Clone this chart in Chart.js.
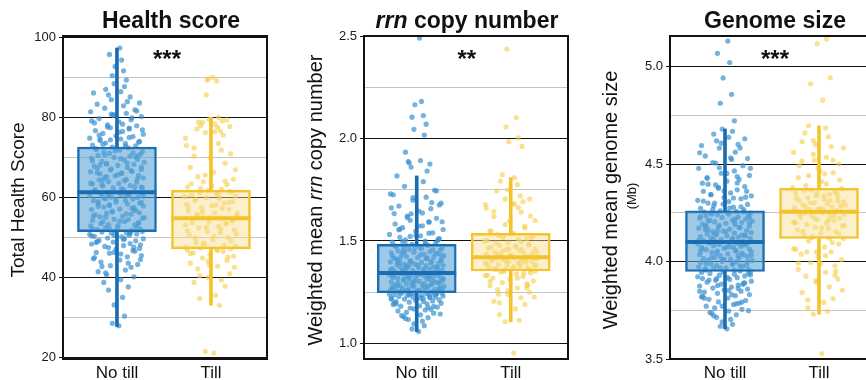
<!DOCTYPE html>
<html>
<head>
<meta charset="utf-8">
<script src="https://cdn.jsdelivr.net/npm/chart.js@4.4.1/dist/chart.umd.min.js"></script>
<style>
html,body{margin:0;padding:0;background:#fff;overflow:hidden}
body{width:866px;height:380px;position:relative}
.pane{position:absolute;top:0}
</style>
</head>
<body>
<div class="pane" style="left:0"><canvas id="c1" width="290" height="380"></canvas></div>
<div class="pane" style="left:290px"><canvas id="c2" width="290" height="380"></canvas></div>
<div class="pane" style="left:580px"><canvas id="c3" width="300" height="380"></canvas></div>
<script>
// groups
var groups = ['No till', 'Till']

// horizontal jitter (hundredths of a category step), same pattern in every panel
var jitterNoTill = [
  2,-5,8,-3,6,-9,12,-14,4,18,-11,-20,9,15,-7,
  22,-17,3,-25,11,26,-8,-22,17,-1,24,-13,7,-27,14,
  -4,20,-19,28,-10,5,-24,13,-29,21,-6,10,-16,27,-2,
  16,-21,25,-12,1,-28,19,-9,23,-15,8,-26,12,-3,29,
  -18,6,-23,15,-11,24,-5,20,-27,3,18,-14,28,-8,11,
  -20,26,-1,-25,9,17,-12,22,-6,-29,13,4,-17,25,-10,
  19,-23,7,-4,27,-15,14,-26,2,21,-9,-19,10,28,-13,
  -2,23,-18,5,-28,16,-7,26,-21,11,-24,1,18,-11,29,
  -16,8,22,-27,-3,14,-20,25,-8,-14,27,3,-22,12,-5,
  20,-26,9,-12,24,-18,4,-29,17,-1,28,-15,6,-23,13,
  -7,21,-10,-24,2,15,-19,26,-4,10,-28,19,-13,7,-21,
  11,-6,14,-9,4,-12,8,-3,10,-5,7,-2,5,-8,3
]
var jitterTill = [
  3,-6,9,-12,5,15,-18,11,-3,20,-14,7,-22,17,-9,
  24,-1,-19,13,-25,6,21,-11,26,-7,-16,2,18,-23,10,
  -4,25,-13,8,-27,16,-2,22,-20,12,-8,27,-15,4,-24,
  19,-10,1,-26,14,23,-17,9,-5,26,-21,6,-12,20,-3,
  11,-25,17,-8,24,-14,3,-22,15,-1,21,-18,8,-27,13,
  -6,10,-15,7,-11,4,-9,12,-2,8,-5,6,-3,2,-4
]
var jitterExtra = [
  -12,25,-3,18,-22,7,-27,14,-8,21,-17,3,27,-25,10,
  -5,16,-20,24,-1,-14,28,-9,12,-24,5,19,-16,-28,8,
  22,-11,1,-21,15,-6,26,-18,11,-26,4,20,-13,17,-2,
  -23,9,-15,23,-7,13,-19,2,27,-10,6,-27,16,-4,21,
  -16,12,-24,4,19,-9,25,-21,8,-3,14,-26,1,23,-12,
  18,-8,-20,10,26,-15,5,-11,22,-1,-18,13,-6,24,-25
]

// Health score
var healthNoTill = [
  28.0,28.6,30.4,33.2,35.1,36.9,37.7,38.8,39.5,40.2,40.7,41.5,41.9,42.6,43.0,
  43.3,43.9,44.4,44.7,45.2,45.5,46.1,46.3,46.8,47.1,47.3,47.8,48.0,48.4,48.5,
  48.9,49.2,49.3,49.7,49.9,50.2,50.3,50.6,50.8,50.9,51.1,51.2,51.4,51.5,51.6,
  51.8,52.0,52.1,52.5,52.6,52.9,53.2,53.3,53.6,53.9,54.0,54.3,54.5,54.6,55.0,
  55.2,55.3,55.7,55.8,56.1,56.2,56.6,56.7,57.0,57.1,57.5,57.6,57.9,58.0,58.4,
  58.5,58.8,58.9,59.2,59.3,59.6,59.7,60.0,60.1,60.4,60.5,60.8,60.9,61.2,61.3,
  61.5,61.9,62.0,62.4,62.5,62.9,63.0,63.4,63.5,63.9,64.0,64.4,64.5,64.9,65.0,
  65.4,65.5,65.9,66.0,66.4,66.5,66.9,67.0,67.3,67.5,67.8,68.0,68.3,68.5,68.8,
  69.0,69.3,69.5,69.8,70.0,70.3,70.5,70.8,71.0,71.3,71.5,71.8,72.0,72.4,72.6,
  72.9,73.1,73.5,73.6,74.0,74.2,74.6,74.8,75.2,75.4,75.8,76.0,76.5,76.7,77.1,
  77.4,77.9,78.1,78.6,78.9,79.4,79.7,80.2,80.5,81.0,81.4,81.9,82.3,82.9,83.3,
  83.9,84.4,85.1,85.6,86.4,87.0,87.7,88.4,89.3,90.4,91.6,92.7,94.3,95.7,97.3
]
var healthNoTillMore = [
  41.2,44.5,46.3,47.6,48.8,49.5,50.4,51.0,52.3,52.7,53.5,54.1,54.8,55.4,55.9,
  56.4,57.3,57.8,58.6,59.4,59.9,60.3,60.7,61.1,61.7,62.2,62.7,63.2,63.6,64.2,
  64.7,65.2,65.7,66.2,66.7,67.1,67.6,68.1,68.6,69.1,69.7,70.1,70.6,71.2,71.6,
  72.2,72.8,73.3,73.8,74.4,75.0,75.6,76.3,76.9,77.6,78.3,79.1,79.9,80.7,81.6,
  42.8,43.6,45.0,45.9,46.6,47.5,48.2,49.0,49.8,50.5,51.3,52.2,53.0,53.8,55.1,
  56.9,58.2,59.0,60.6,62.6,64.4,66.1,68.3,70.4,72.1,74.6,77.3,80.8,83.6,86.1
]
var healthTill = [
  21.2,21.6,33.1,34.8,35.6,37.9,38.8,39.4,40.1,41.0,42.2,42.9,43.6,44.3,44.9,
  45.4,45.8,46.2,46.5,46.9,47.0,47.2,47.4,47.9,48.3,48.8,49.5,50.0,50.6,51.2,
  51.5,51.9,52.4,52.8,53.2,53.5,53.9,54.2,54.5,54.7,54.9,55.3,55.8,56.2,56.6,
  57.1,57.5,57.9,58.3,58.6,59.0,59.3,59.7,60.0,60.3,60.6,60.9,61.2,61.5,61.8,
  62.1,62.6,63.2,63.9,64.6,65.2,66.3,67.5,68.6,69.9,70.9,72.4,73.5,74.8,75.6,
  76.2,76.6,77.1,77.5,77.9,78.3,78.7,79.1,79.5,80.0,85.6,89.1,89.6,90.0,89.3
]
var healthTillMore = [
  40.5,42.6,44.1,45.1,46.0,46.7,47.6,48.1,48.6,49.2,49.9,50.3,50.9,51.7,52.2,
  52.6,53.4,53.7,54.4,55.0,55.6,56.0,56.4,57.3,57.7,58.1,58.8,59.5,60.2,60.8,
  61.4,62.3,62.9,63.4,64.1,65.6,66.9,70.3,71.8,73.0,76.4,77.7,78.8,79.4,43.2
]
var healthLow = [27.8, 33.1]
var healthQ1 = [51.5, 47.2]
var healthMedian = [61.3, 54.8]
var healthQ3 = [72.6, 61.8]
var healthHigh = [97.3, 80.0]
var healthTicks = [20, 30, 40, 50, 60, 70, 80, 90, 100]
var healthLabels = [20, 40, 60, 80, 100]

// rrn copy number
var rrnNoTill = [
  1.057,1.07,1.086,1.095,1.108,1.116,1.125,1.131,1.139,1.147,1.151,1.158,1.163,1.166,1.172,
  1.177,1.181,1.183,1.189,1.193,1.195,1.201,1.203,1.207,1.21,1.212,1.216,1.219,1.221,1.223,
  1.225,1.227,1.229,1.231,1.233,1.234,1.236,1.238,1.239,1.241,1.242,1.243,1.245,1.246,1.247,
  1.25,1.253,1.255,1.256,1.259,1.261,1.262,1.265,1.267,1.268,1.271,1.273,1.274,1.277,1.279,
  1.281,1.283,1.286,1.288,1.29,1.293,1.295,1.298,1.3,1.302,1.305,1.307,1.309,1.312,1.314,
  1.317,1.319,1.321,1.323,1.326,1.327,1.329,1.331,1.333,1.336,1.337,1.339,1.341,1.342,1.344,
  1.347,1.35,1.352,1.355,1.357,1.36,1.363,1.365,1.368,1.371,1.373,1.376,1.379,1.381,1.384,
  1.387,1.39,1.392,1.395,1.398,1.401,1.404,1.407,1.41,1.413,1.416,1.419,1.422,1.425,1.428,
  1.432,1.435,1.438,1.442,1.445,1.448,1.452,1.455,1.459,1.463,1.466,1.47,1.474,1.478,1.483,
  1.488,1.494,1.499,1.505,1.512,1.518,1.525,1.532,1.54,1.548,1.556,1.565,1.574,1.583,1.592,
  1.601,1.611,1.622,1.634,1.646,1.658,1.671,1.685,1.699,1.714,1.73,1.748,1.767,1.79,1.818,
  1.842,1.861,1.876,1.888,1.893,1.934,2.018,2.046,2.071,2.105,2.113,2.166,2.182,1.882,2.492
]
var rrnNoTillMore = [
  1.121,1.143,1.168,1.18,1.192,1.204,1.215,1.226,1.237,1.244,1.252,1.258,1.264,1.27,1.276,
  1.282,1.289,1.294,1.299,1.304,1.311,1.316,1.322,1.328,1.335,1.34,1.346,1.353,1.358,1.364,
  1.369,1.375,1.381,1.386,1.393,1.399,1.405,1.412,1.418,1.426,1.433,1.44,1.449,1.458,1.467,
  1.476,1.486,1.497,1.509,1.522,1.538,1.555,1.573,1.594,1.615,1.637,1.662,1.688,1.712,1.745,
  1.135,1.176,1.198,1.221,1.239,1.256,1.268,1.279,1.291,1.302,1.313,1.325,1.337,1.349,1.361,
  1.374,1.387,1.401,1.415,1.43,1.446,1.463,1.48,1.501,1.527,1.558,1.594,1.633,1.676,1.726
]
var rrnTill = [
  0.952,1.105,1.112,1.14,1.168,1.19,1.205,1.222,1.238,1.25,1.262,1.27,1.281,1.29,1.297,
  1.305,1.312,1.319,1.325,1.332,1.338,1.344,1.349,1.353,1.357,1.361,1.365,1.369,1.372,1.376,
  1.379,1.383,1.386,1.389,1.392,1.395,1.398,1.401,1.404,1.407,1.41,1.413,1.416,1.418,1.42,
  1.423,1.427,1.431,1.435,1.439,1.443,1.447,1.452,1.457,1.462,1.467,1.472,1.478,1.484,1.49,
  1.496,1.503,1.51,1.517,1.524,1.531,1.537,1.55,1.572,1.598,1.622,1.645,1.664,1.678,1.692,
  1.705,1.72,1.745,1.776,1.793,1.81,1.824,1.962,1.985,2.004,2.058,2.102,1.75,1.68,2.438
]
var rrnTillMore = [
  1.198,1.226,1.256,1.284,1.303,1.318,1.331,1.342,1.35,1.358,1.366,1.374,1.381,1.388,1.395,
  1.402,1.409,1.415,1.422,1.429,1.436,1.443,1.451,1.458,1.466,1.474,1.482,1.49,1.499,1.508,
  1.517,1.526,1.535,1.548,1.563,1.58,1.6,1.62,1.641,1.66,1.683,1.705,1.24,1.27,1.46
]
var rrnLow = [1.057, 1.105]
var rrnQ1 = [1.247, 1.353]
var rrnMedian = [1.344, 1.42]
var rrnQ3 = [1.483, 1.537]
var rrnHigh = [1.818, 1.81]
var rrnTicks = [1.0, 1.25, 1.5, 1.75, 2.0, 2.25, 2.5]
var rrnLabels = [1.0, 1.5, 2.0, 2.5]

// Genome size (Mb)
var genomeNoTill = [
  3.655,3.668,3.678,3.69,3.703,3.714,3.727,3.735,3.746,3.755,3.762,3.771,3.779,3.786,3.793,
  3.8,3.806,3.813,3.819,3.825,3.831,3.837,3.843,3.848,3.854,3.859,3.864,3.869,3.874,3.879,
  3.884,3.889,3.894,3.899,3.904,3.908,3.913,3.917,3.922,3.926,3.93,3.935,3.939,3.944,3.948,
  3.952,3.956,3.96,3.964,3.968,3.972,3.976,3.979,3.983,3.987,3.99,3.994,3.998,4.001,4.005,
  4.008,4.012,4.015,4.019,4.022,4.026,4.029,4.033,4.036,4.04,4.043,4.047,4.05,4.054,4.057,
  4.061,4.064,4.068,4.071,4.074,4.078,4.081,4.085,4.088,4.091,4.094,4.096,4.097,4.099,4.1,
  4.104,4.107,4.111,4.114,4.118,4.121,4.125,4.128,4.132,4.135,4.139,4.142,4.146,4.149,4.153,
  4.156,4.16,4.163,4.167,4.171,4.174,4.178,4.181,4.185,4.189,4.192,4.196,4.2,4.203,4.207,
  4.211,4.214,4.218,4.222,4.226,4.229,4.233,4.237,4.241,4.244,4.248,4.251,4.254,4.257,4.26,
  4.266,4.273,4.279,4.286,4.293,4.3,4.307,4.314,4.322,4.329,4.337,4.344,4.352,4.36,4.368,
  4.376,4.385,4.393,4.402,4.412,4.421,4.431,4.442,4.453,4.465,4.478,4.492,4.507,4.524,4.542,
  4.561,4.582,4.601,4.619,4.637,4.654,4.668,4.68,4.722,4.812,4.858,4.942,5.021,5.068,5.131
]
var genomeNoTillMore = [
  3.722,3.748,3.771,3.792,3.812,3.83,3.847,3.862,3.877,3.891,3.905,3.918,3.931,3.944,3.956,
  3.967,3.978,3.989,4.0,4.011,4.021,4.032,4.043,4.054,4.065,4.076,4.087,4.098,4.109,4.12,
  4.131,4.142,4.153,4.164,4.175,4.186,4.197,4.208,4.219,4.231,4.243,4.255,4.268,4.281,4.295,
  4.31,4.326,4.343,4.361,4.381,4.403,4.427,4.452,4.478,4.505,4.532,4.558,4.583,4.607,4.63,
  3.738,3.784,3.821,3.852,3.883,3.912,3.938,3.962,3.985,4.008,4.03,4.052,4.073,4.094,4.115,
  4.136,4.158,4.18,4.202,4.225,4.249,4.274,4.3,4.33,4.362,4.397,4.436,4.481,4.528,4.595
]
var genomeTill = [
  3.528,3.73,3.745,3.762,3.79,3.81,3.84,3.87,3.895,3.91,3.925,3.945,3.96,3.978,3.995,
  4.01,4.024,4.038,4.05,4.062,4.075,4.09,4.105,4.118,4.127,4.136,4.145,4.153,4.161,4.169,
  4.176,4.183,4.19,4.197,4.204,4.21,4.216,4.222,4.228,4.233,4.238,4.243,4.248,4.252,4.256,
  4.261,4.266,4.271,4.276,4.281,4.286,4.291,4.296,4.302,4.308,4.314,4.32,4.326,4.332,4.338,
  4.345,4.352,4.359,4.367,4.376,4.39,4.41,4.43,4.455,4.478,4.5,4.515,4.535,4.56,4.59,
  4.62,4.64,4.66,4.685,4.696,4.828,4.912,4.943,5.118,5.142,4.52,4.45,4.05,3.99,4.6
]
var genomeTillMore = [
  3.802,3.853,3.904,3.951,3.993,4.03,4.066,4.098,4.124,4.142,4.158,4.172,4.186,4.199,4.211,
  4.223,4.235,4.246,4.257,4.268,4.279,4.29,4.301,4.313,4.325,4.337,4.35,4.364,4.38,4.398,
  4.418,4.44,4.465,4.492,4.52,4.55,4.582,4.615,4.12,4.2,4.27,4.31,4.05,3.93,4.35
]
var genomeLow = [3.655, 3.73]
var genomeQ1 = [3.949, 4.118]
var genomeMedian = [4.10, 4.256]
var genomeQ3 = [4.26, 4.376]
var genomeHigh = [4.68, 4.696]
var genomeTicks = [3.5, 3.75, 4.0, 4.25, 4.5, 4.75, 5.0]
var genomeLabels = [3.5, 4.0, 4.5, 5.0]

var FONT = '"Liberation Sans", Arial, Helvetica, sans-serif'
Chart.defaults.font.family = FONT

var lineCol = ['#1b6db3', '#f5c22c']
var boxFill = ['rgba(92,163,213,0.6)', 'rgba(247,222,140,0.45)']
var dotCol = ['rgba(58,145,208,0.7)', 'rgba(247,205,70,0.6)']

function hasVal(arr, v) {
  return arr.some(function (a) { return Math.abs(a - v) < 1e-9 })
}

function drawParts(ctx, parts, size, cx, cy, rotate, base) {
  ctx.save()
  ctx.translate(cx, cy)
  if (rotate) ctx.rotate(-Math.PI / 2)
  ctx.fillStyle = '#111'
  ctx.textBaseline = base
  var total = 0
  parts.forEach(function (p) {
    ctx.font = (p.i ? 'italic ' : '') + (p.b ? 'bold ' : '') + size + 'px ' + FONT
    p.w = ctx.measureText(p.t).width
    total += p.w
  })
  var x = -total / 2
  parts.forEach(function (p) {
    ctx.font = (p.i ? 'italic ' : '') + (p.b ? 'bold ' : '') + size + 'px ' + FONT
    ctx.fillText(p.t, x, 0)
    x += p.w
  })
  ctx.restore()
}

function boxChart(id, c) {
  var pts = function (vals, jit, cx) {
    return vals.map(function (v, i) { return { x: cx + (jit[i] || 0) / 100, y: v } })
  }
  var boxes = [], whiskers = []
  for (var g = 0; g < 2; g++) {
    boxes.push({ x: g + 1, y: [c.q1[g], c.q3[g]] })
    whiskers.push({ x: g + 1, y: [c.low[g], c.q1[g]] })
    whiskers.push({ x: g + 1, y: [c.q3[g], c.high[g]] })
  }

  var extras = {
    id: 'extras' + id,
    afterDatasetsDraw: function (chart) {
      var ctx = chart.ctx, ys = chart.scales.y, a = chart.chartArea
      var meta = chart.getDatasetMeta(3)
      meta.data.forEach(function (bar, i) {
        var y = ys.getPixelForValue(c.median[i])
        ctx.save()
        ctx.strokeStyle = lineCol[i]
        ctx.lineWidth = 4
        ctx.beginPath()
        ctx.moveTo(bar.x - bar.width / 2, y)
        ctx.lineTo(bar.x + bar.width / 2, y)
        ctx.stroke()
        ctx.restore()
      })
      ctx.save()
      ctx.strokeStyle = '#111'
      ctx.lineWidth = 2
      ctx.strokeRect(a.left, a.top, a.right - a.left, a.bottom - a.top)
      ctx.restore()
    },
    afterDraw: function (chart) {
      var ctx = chart.ctx, xs = chart.scales.x, a = chart.chartArea
      drawParts(ctx, c.title, 23, c.titleX, 28, false, 'alphabetic')
      drawParts(ctx, c.ylabel, c.ylabelSize, c.ylabelX, 200, true, 'middle')
      if (c.sub) drawParts(ctx, [{ t: c.sub }], 13, c.subX, 196, true, 'middle')
      ctx.save()
      ctx.fillStyle = '#111'
      ctx.font = 'bold 24px ' + FONT
      ctx.textAlign = 'center'
      ctx.textBaseline = 'alphabetic'
      ctx.fillText(c.stars, xs.getPixelForValue(1.5) + 3, a.top + 31)
      ctx.restore()
    }
  }

  var dot = function (data, col, ord) {
    return { type: 'scatter', data: data, backgroundColor: col, pointRadius: 2.6, pointBorderWidth: 0, order: ord }
  }

  return new Chart(document.getElementById(id), {
    type: 'scatter',
    data: {
      datasets: [
        dot(pts(c.noTill, jitterNoTill, 1), dotCol[0], 5),
        dot(pts(c.till, jitterTill, 2), dotCol[1], 4),
        { type: 'bar', data: whiskers, backgroundColor: [lineCol[0], lineCol[0], lineCol[1], lineCol[1]], barThickness: 3, grouped: false, borderWidth: 0, order: 3 },
        { type: 'bar', data: boxes, backgroundColor: boxFill, borderColor: lineCol, borderWidth: 2, borderSkipped: false, barThickness: 79, grouped: false, order: 2 },
        dot(pts(c.noTillMore, jitterExtra, 1), dotCol[0], 5),
        dot(pts(c.tillMore, jitterExtra, 2), dotCol[1], 4)
      ]
    },
    options: {
      responsive: false,
      animation: false,
      events: [],
      layout: { padding: { top: 36, right: c.padRight, left: 0, bottom: 0 } },
      plugins: { legend: { display: false }, tooltip: { enabled: false } },
      scales: {
        x: {
          type: 'linear', min: c.xmin, max: c.xmin + 2.17, offset: false,
          afterBuildTicks: function (s) { s.ticks = [{ value: 1 }, { value: 2 }] },
          afterFit: function (s) { s.height = 21 },
          grid: { display: false, drawTicks: false, offset: false },
          border: { display: false },
          ticks: { callback: function (v) { return groups[v - 1] }, font: { size: 17 }, color: '#111', padding: 4, maxRotation: 0 }
        },
        y: {
          type: 'linear', min: c.ymin, max: c.ymax,
          afterBuildTicks: function (s) { s.ticks = c.ticks.map(function (v) { return { value: v } }) },
          afterFit: function (s) { s.width = c.yw },
          border: { display: false },
          grid: {
            color: function (ctx) { return hasVal(c.labels, ctx.tick.value) ? '#111' : '#c4c4c4' },
            tickColor: function (ctx) { return hasVal(c.labels, ctx.tick.value) ? '#111' : 'rgba(0,0,0,0)' },
            lineWidth: 1,
            tickLength: 4
          },
          ticks: {
            callback: function (v) { return hasVal(c.labels, v) ? v.toFixed(c.dec) : '' },
            font: { size: 13 }, color: '#1a1a1a', padding: 3
          }
        }
      }
    },
    plugins: [extras]
  })
}

boxChart('c1', {
  noTill: healthNoTill, till: healthTill, noTillMore: healthNoTillMore, tillMore: healthTillMore,
  low: healthLow, q1: healthQ1, median: healthMedian, q3: healthQ3, high: healthHigh,
  ticks: healthTicks, labels: healthLabels, dec: 0,
  ymin: 19.7, ymax: 100.3, xmin: 0.426, yw: 63, padRight: 23,
  title: [{ t: 'Health score', b: true }], titleX: 171,
  ylabel: [{ t: 'Total Health Score' }], ylabelSize: 19, ylabelX: 19,
  stars: '***'
})

boxChart('c2', {
  noTill: rrnNoTill, till: rrnTill, noTillMore: rrnNoTillMore, tillMore: rrnTillMore,
  low: rrnLow, q1: rrnQ1, median: rrnMedian, q3: rrnQ3, high: rrnHigh,
  ticks: rrnTicks, labels: rrnLabels, dec: 1,
  ymin: 0.923, ymax: 2.502, xmin: 0.439, yw: 74, padRight: 12,
  title: [{ t: 'rrn', b: true, i: true }, { t: ' copy number', b: true }], titleX: 177,
  ylabel: [{ t: 'Weighted mean ' }, { t: 'rrn', i: true }, { t: ' copy number' }], ylabelSize: 20, ylabelX: 26,
  stars: '**'
})

boxChart('c3', {
  noTill: genomeNoTill, till: genomeTill, noTillMore: genomeNoTillMore, tillMore: genomeTillMore,
  low: genomeLow, q1: genomeQ1, median: genomeMedian, q3: genomeQ3, high: genomeHigh,
  ticks: genomeTicks, labels: genomeLabels, dec: 1,
  ymin: 3.5, ymax: 5.157, xmin: 0.415, yw: 90, padRight: 6,
  title: [{ t: 'Genome size', b: true }], titleX: 195,
  ylabel: [{ t: 'Weighted mean genome size' }], ylabelSize: 20, ylabelX: 31,
  sub: '(Mb)', subX: 52,
  stars: '***'
})
</script>
</body>
</html>
